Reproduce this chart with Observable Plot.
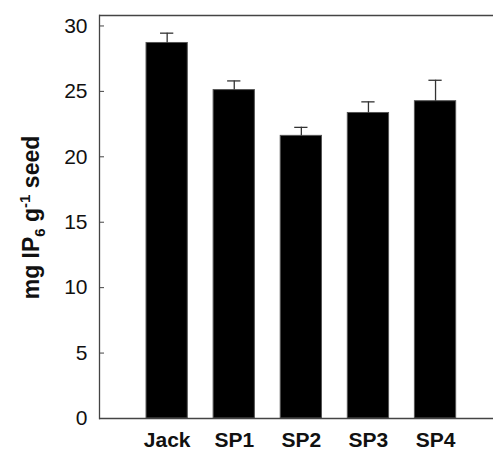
<!DOCTYPE html>
<html><head><meta charset="utf-8">
<script src="https://cdn.jsdelivr.net/npm/d3@7"></script>
<script src="https://cdn.jsdelivr.net/npm/@observablehq/plot@0.6"></script>
<style>html,body{margin:0;padding:0;background:#fff;overflow:hidden}#chart svg{display:block}</style>
</head><body><div id="chart"></div>
<script>
const cultivars = ["Jack", "SP1", "SP2", "SP3", "SP4"];
const means = [28.7, 25.1, 21.6, 23.35, 24.25];
const upperErr = [29.45, 25.8, 22.25, 24.2, 25.85];
const yTicks = [0, 5, 10, 15, 20, 25, 30];
const yMax = 30.8;

const data = cultivars.map((c, i) => ({cultivar: c, mean: means[i], upper: upperErr[i]}));

const plot = Plot.plot({
  width: 493, height: 450,
  marginLeft: 99, marginRight: 0, marginTop: 15, marginBottom: 32,
  style: {fontFamily: "Liberation Sans, Arial, sans-serif", background: "#fff", overflow: "hidden"},
  x: {domain: cultivars, range: [120.2, 481.5], padding: 0.385, round: false},
  y: {domain: [0, yMax]},
  marks: [
    Plot.barY(data, {x: "cultivar", y: "mean", fill: "black", stroke: "#555", strokeWidth: 1}),
    Plot.ruleX(data, {x: "cultivar", y1: "mean", y2: "upper", stroke: "#333", strokeWidth: 1.3}),
    Plot.tickY(data, {x: "cultivar", y: "upper", stroke: "#333", strokeWidth: 1.3, insetLeft: 14, insetRight: 14}),
    Plot.ruleY([0, yMax], {stroke: "#444", strokeWidth: 1.3}),
    Plot.frame({anchor: "left", stroke: "#444", strokeWidth: 1.3, insetRight: -8}),
    Plot.axisY(yTicks, {tickSize: -5, tickPadding: 17, fontSize: 21, label: null, stroke: "#444", fill: "#111"}),
    Plot.axisX({tickSize: 0, tickPadding: 14, fontSize: 21, fontWeight: "bold", label: null, fill: "#111"})
  ]
});
document.getElementById("chart").appendChild(plot);

const svg = d3.select(plot);
const t = svg.append("text")
  .attr("transform", "translate(38.5,217.5) rotate(-90)")
  .attr("text-anchor", "middle")
  .attr("font-family", "Liberation Sans, Arial, sans-serif")
  .attr("font-weight", "bold")
  .attr("font-size", 23)
  .attr("fill", "#111");
t.append("tspan").text("mg IP");
t.append("tspan").attr("font-size", 15).attr("dy", 6).text("6");
t.append("tspan").attr("dy", -6).text(" g");
t.append("tspan").attr("font-size", 15).attr("dy", -9).text("-1");
t.append("tspan").attr("dy", 9).text(" seed");
</script>
</body></html>
